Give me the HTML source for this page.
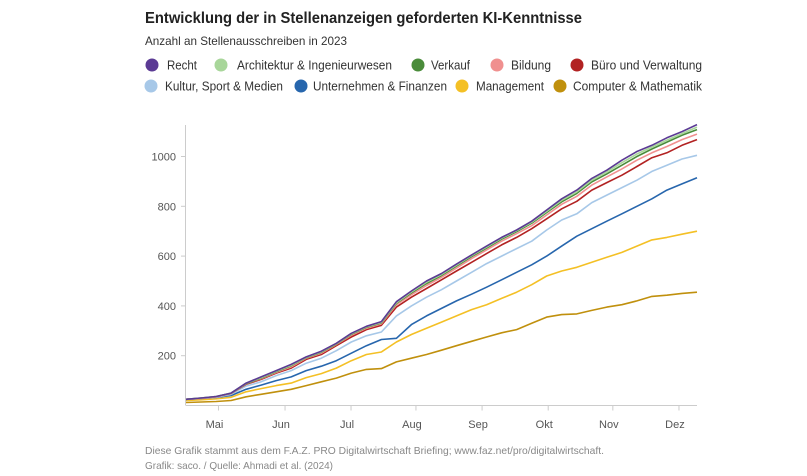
<!DOCTYPE html>
<html><head><meta charset="utf-8"><style>
body{margin:0;background:#fff;}
svg{display:block;font-family:"Liberation Sans",sans-serif;}
</style></head><body>
<svg id="chart" width="807" height="476" viewBox="0 0 807 476">
<text x="145" y="23" font-size="16" font-weight="bold" fill="#222" textLength="437" lengthAdjust="spacingAndGlyphs">Entwicklung der in Stellenanzeigen geforderten KI-Kenntnisse</text>
<text x="145" y="45" font-size="12" fill="#333" textLength="202" lengthAdjust="spacingAndGlyphs">Anzahl an Stellenausschreiben in 2023</text>
<g id="legend"></g>
<g id="axes"></g>
<g id="lines"></g>
<text x="145" y="454" font-size="10.5" fill="#888" textLength="459" lengthAdjust="spacingAndGlyphs">Diese Grafik stammt aus dem F.A.Z. PRO Digitalwirtschaft Briefing; www.faz.net/pro/digitalwirtschaft.</text>
<text x="145" y="469" font-size="10.5" fill="#888" textLength="188" lengthAdjust="spacingAndGlyphs">Grafik: saco. / Quelle: Ahmadi et al. (2024)</text>
</svg>
<script>
const seriesNames=["Recht","Architektur & Ingenieurwesen","Verkauf","Bildung","Büro und Verwaltung","Kultur, Sport & Medien","Unternehmen & Finanzen","Management","Computer & Mathematik"];
const seriesColors=["#5b3a94","#a8d69a","#4a8c3a","#f0908f","#b22222","#a7c8e8","#2766ad","#f4c025","#c0900d"];
const recht=[25,30,36,50,90,115,140,165,195,218,250,290,318,337,417,460,500,530,568,605,640,675,705,740,785,830,865,912,945,985,1020,1045,1075,1100,1128];
const architektur=[25,30,36,50,89,112,138,162,193,216,248,288,316,334,413,456,495,526,564,602,636,672,702,736,780,824,858,905,938,975,1010,1038,1066,1092,1118];
const verkauf=[25,30,36,50,88,110,136,160,192,214,247,286,314,332,410,452,490,522,560,598,632,668,698,732,775,818,852,898,930,965,1000,1030,1058,1085,1108];
const bildung=[25,29,35,49,87,108,133,155,190,210,245,282,310,328,405,445,482,515,552,590,625,660,690,722,765,808,840,885,918,950,985,1015,1040,1068,1090];
const buero=[25,29,35,48,85,105,130,150,185,205,240,275,305,322,395,435,470,505,540,575,610,645,675,710,750,790,820,865,895,925,960,995,1015,1045,1068];
const kultur=[24,28,33,45,78,95,120,140,170,190,220,255,280,295,360,400,435,465,500,535,570,600,630,660,705,745,770,815,845,875,905,940,965,990,1005];
const unternehmen=[25,28,32,40,65,82,100,115,140,158,180,210,240,265,270,325,360,390,420,447,475,505,535,565,600,640,680,710,740,770,800,830,865,890,915];
const management=[20,23,27,33,55,68,80,90,112,128,150,180,205,215,255,285,310,335,360,385,405,430,455,485,520,540,555,575,595,615,640,665,675,688,700];
const computer=[12,14,16,20,35,45,55,65,80,95,110,130,145,148,175,190,205,222,240,258,275,292,305,330,355,365,368,382,395,405,420,438,443,450,455];
const yTicks=[200,400,600,800,1000];
const monthLabels=["Mai","Jun","Jul","Aug","Sep","Okt","Nov","Dez"];
const monthWeeks=[2.16,6.59,10.98,15.3,19.7,24.1,28.4,32.8];

const allSeries=[recht,architektur,verkauf,bildung,buero,kultur,unternehmen,management,computer];
const NS="http://www.w3.org/2000/svg";
const X0=186,X1=697,Y0=405.5,YK=0.249,N=recht.length;
const xS=i=>X0+(X1-X0)*i/(N-1);
const yS=v=>Y0-v*YK;
function mk(t,a,p){const e=document.createElementNS(NS,t);for(const k in a)e.setAttribute(k,a[k]);p.appendChild(e);return e;}
const axes=document.getElementById('axes');
let a=mk('line',{x1:X0-0.5,x2:X0-0.5,y1:125,y2:Y0,stroke:'#ccc','stroke-width':1},axes);


a=mk('line',{x1:X0,x2:X1,y1:Y0,y2:Y0,stroke:'#ccc','stroke-width':1},axes);


yTicks.forEach(v=>{
  const t=mk('line',{x1:X0-5,x2:X0,y1:yS(v),y2:yS(v),stroke:'#ccc'},axes);
  
  
  const l=mk('text',{x:X0-10,y:yS(v)+4,'text-anchor':'end','font-size':11,fill:'#555'},axes);
  l.textContent=v;
  
  
});
monthLabels.forEach((m,i)=>{
  const x=xS(monthWeeks[i]);
  const t=mk('line',{x1:x,x2:x,y1:Y0,y2:Y0+5,stroke:'#ccc'},axes);
  
  
  const l=mk('text',{x:x-4,y:428,'text-anchor':'middle','font-size':11,fill:'#555'},axes);
  l.textContent=m;
  
  
});
const lines=document.getElementById('lines');
for(let s=allSeries.length-1;s>=0;s--){
  const d=allSeries[s].map((v,i)=>(i?'L':'M')+xS(i).toFixed(1)+' '+yS(v).toFixed(1)).join(' ');
  const p=mk('path',{d:d,fill:'none',stroke:seriesColors[s],'stroke-width':1.6,'stroke-linejoin':'round'},lines);
  
  
}
const legendPos=[[152,65,167,30],[221,65,237,155],[418,65,431,39],[497,65,511,40],[577,65,591,111],[151,86,165,118],[301,86,313,134],[462,86,476,68],[560,86,573,129]];
const lg=document.getElementById('legend');
seriesNames.forEach((n,i)=>{
  const p=legendPos[i];
  const g=mk('g',{},lg);
  
  
  mk('circle',{cx:p[0],cy:p[1],r:6.5,fill:seriesColors[i]},g);
  const t=mk('text',{x:p[2],y:p[1]+4.5,'font-size':12.5,fill:'#333',textLength:p[3],lengthAdjust:'spacingAndGlyphs'},g);
  t.textContent=n;
});
</script>
</body></html>
